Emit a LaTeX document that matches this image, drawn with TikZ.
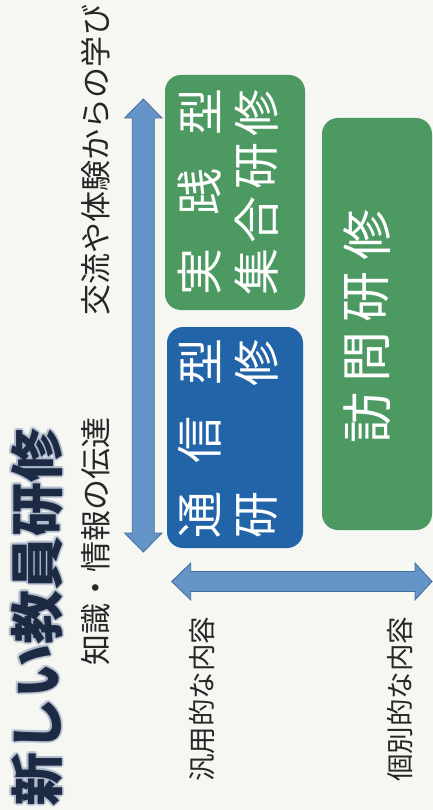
\documentclass[tikz,border=0pt]{standalone}
\usepackage{fontspec}
\newfontfamily\jp{Noto Sans CJK JP}
\definecolor{bg}{RGB}{246,246,243}
\definecolor{grn}{RGB}{76,153,98}
\definecolor{blu}{RGB}{33,100,168}
\definecolor{arw}{RGB}{100,148,200}
\definecolor{arwd}{RGB}{68,108,156}
\definecolor{navy}{RGB}{28,42,68}
\definecolor{glow}{RGB}{170,182,200}
\definecolor{inkc}{RGB}{38,38,38}
\begin{document}
\begin{tikzpicture}[x=1pt,y=-1pt,
  boxg/.style={fill=grn,rounded corners=16pt,inner sep=0pt},
  boxb/.style={fill=blu,rounded corners=16pt,inner sep=0pt},
  arrowst/.style={fill=arw,draw=arwd,line width=0.8pt,line join=miter},
  ttl/.style={rotate=90,inner sep=0pt,text=navy,font=\jp\bfseries\fontsize{54}{54}\selectfont},
  subt/.style={rotate=90,inner sep=0pt,text=inkc,font=\jp\fontsize{31}{31}\selectfont},
  lab/.style={rotate=90,inner sep=0pt,text=inkc,font=\jp\fontsize{27.5}{27.5}\selectfont},
  bt/.style={rotate=90,inner sep=0pt,text=white,font=\jp\fontsize{47}{47}\selectfont},
  bt2/.style={rotate=90,inner sep=0pt,text=white,font=\jp\fontsize{51}{51}\selectfont}]
\useasboundingbox (0,0) rectangle (433,810);
\fill[bg] (0,0) rectangle (433,810);

% boxes
\node[boxg,minimum width=140pt,minimum height=235pt] (jissen) at (235,192.5) {};
\node[boxb,minimum width=136pt,minimum height=221pt] (tsushin) at (235,437.5) {};
\node[boxg,minimum width=110pt,minimum height=412pt] (homon) at (377,324) {};

% arrows
\filldraw[arrowst] (143.3,99) -- (162,118) -- (154.3,118) -- (154.3,533) -- (162,533)
  -- (143.3,552) -- (124.6,533) -- (132.3,533) -- (132.3,118) -- (124.6,118) -- cycle;
\filldraw[arrowst] (171.7,581.5) -- (190.7,563) -- (190.7,571.5) -- (415,571.5) -- (415,563)
  -- (432,581.5) -- (415,600) -- (415,591.5) -- (190.7,591.5) -- (190.7,600) -- cycle;

% title with glow
\foreach \dx/\dy [count=\i] in {2/0,-2/0,0/2,0/-2,1.5/1.5,-1.5/1.5,1.5/-1.5,-1.5/-1.5}
  \node[ttl,text=glow,opacity=0.55,xshift=\dx pt,yshift=\dy pt] (glow\i) at (37,617) {新しい教員研修};
\node[ttl] (title) at (37,617) {新しい教員研修};

% axis texts
\node[subt] (chishiki) at (96,541) {知識・情報の伝達};
\node[subt] (koryu) at (96,160) {交流や体験からの学び};
\node[lab] (hanyo) at (202,699) {汎用的な内容};
\node[lab] (kobetsu) at (400,699) {個別的な内容};

% 実践型集合研修
\node[bt] (j1) at (200,272) {実};
\node[bt] (j2) at (200,192) {践};
\node[bt] (j3) at (200,112) {型};
\node[bt] (j4) at (257,272) {集};
\node[bt] (j5) at (257,220) {合};
\node[bt] (j6) at (257,166) {研};
\node[bt] (j7) at (257,113) {修};

% 通信型研修
\node[bt] (t1) at (200,515) {通};
\node[bt] (t2) at (200,440) {信};
\node[bt] (t3) at (200,362) {型};
\node[bt] (t4) at (257,515) {研};
\node[bt] (t5) at (257,363) {修};

% 訪問研修
\node[bt2] (h1) at (367,418) {訪};
\node[bt2] (h2) at (367,357) {問};
\node[bt2] (h3) at (367,297) {研};
\node[bt2] (h4) at (367,235) {修};
\end{tikzpicture}
\end{document}
